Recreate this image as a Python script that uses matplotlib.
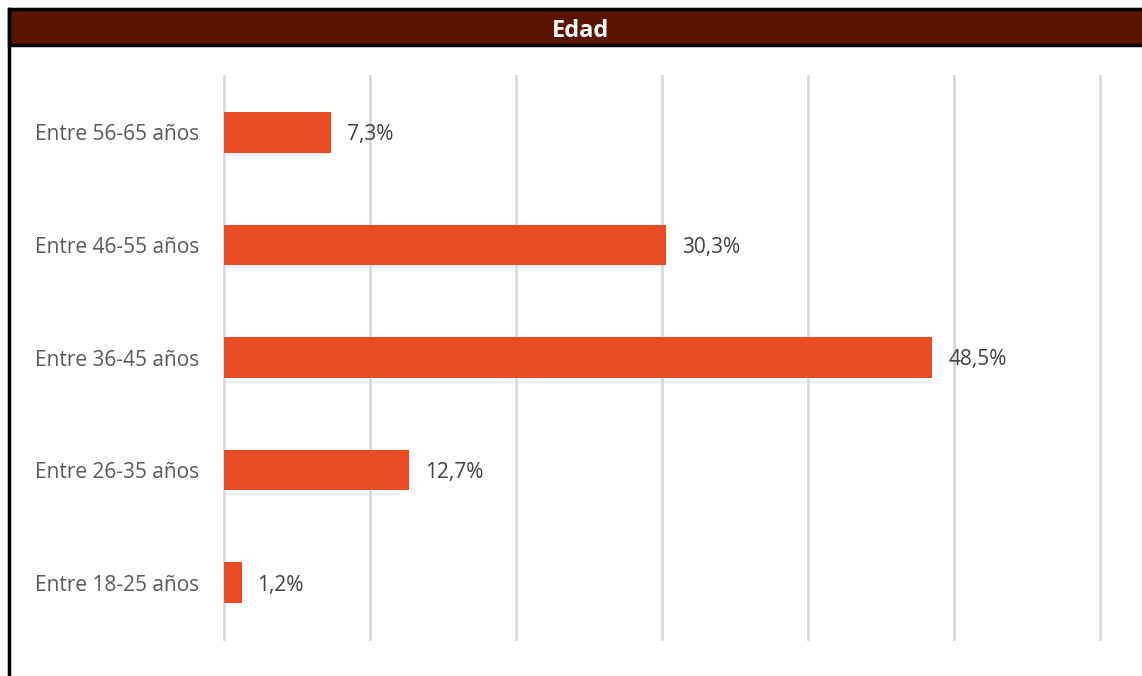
import matplotlib.pyplot as plt
from matplotlib.patches import Rectangle
from matplotlib.lines import Line2D

categories = ['Entre 18-25 años', 'Entre 26-35 años', 'Entre 36-45 años',
              'Entre 46-55 años', 'Entre 56-65 años']
values = [1.2, 12.7, 48.5, 30.3, 7.3]
title = 'Edad'

plt.rc('font', family=['Open Sans', 'DejaVu Sans'])

W, H = 1142, 676
fig = plt.figure(figsize=(W / 100, H / 100), dpi=100)

# header band and left frame
fig.patches.append(Rectangle((9 / W, 1 - 45 / H), 1 - 9 / W + 0.01, 36 / H,
                             transform=fig.transFigure, facecolor='#5A1400',
                             edgecolor='black', linewidth=2.5, clip_on=False))
fig.lines.append(Line2D([9 / W, 9 / W], [0, 1 - 9 / H], transform=fig.transFigure,
                        color='black', linewidth=2.5))
fig.text(581 / W, 1 - 28 / H, title, color='white', fontsize=17,
         fontweight='bold', ha='center', va='center_baseline')

ax = fig.add_axes([224 / W, 1 - 639 / H, (1100 - 224) / W, (639 - 76) / H])
y = range(len(categories))
ax.barh(y, values, height=0.36, color='#E84C22', zorder=3)
for yi, v in zip(y, values):
    ax.annotate(f'{v:.1f}%'.replace('.', ','), (v, yi), xytext=(16, 0),
                textcoords='offset pixels', va='center_baseline', ha='left',
                fontsize=15, color='#404040')

ax.set_xlim(0, 60)
ax.set_ylim(-0.5, 4.5)
ax.set_xticks(range(0, 61, 10))
ax.set_xticklabels([])
ax.set_yticks(list(y))
ax.set_yticklabels(categories, fontsize=15, color='#595959',
                   va='center_baseline')
ax.tick_params(axis='both', length=0)
ax.tick_params(axis='y', pad=18)
ax.grid(axis='x', color='#D9D9D9', linewidth=2, zorder=0)
for gl in ax.get_xgridlines():
    gl.set_clip_on(False)
for s in ax.spines.values():
    s.set_visible(False)

fig.savefig('out.png', dpi=100)
